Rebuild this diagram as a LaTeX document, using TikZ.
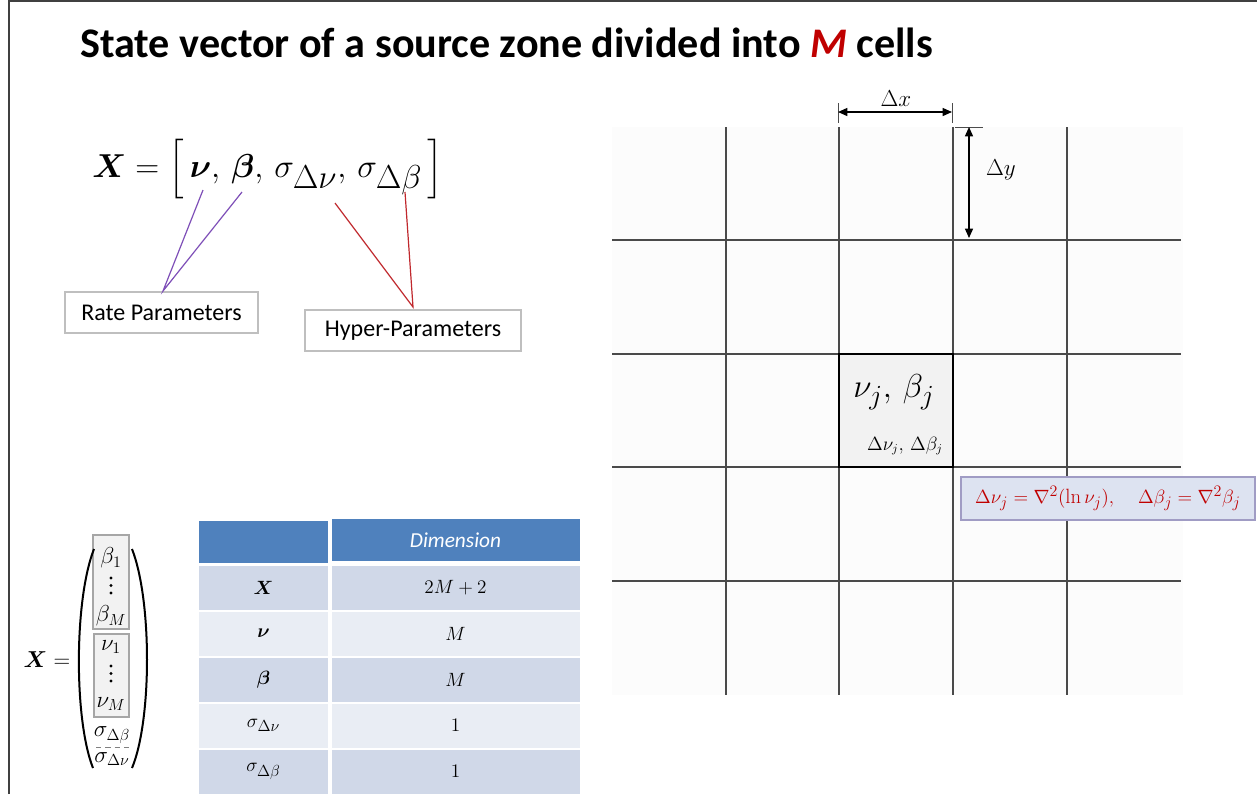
\documentclass[tikz,border=0pt]{standalone}
\usepackage{amsmath,bm}
\usepackage{fontspec}
\newfontfamily\carlito{Carlito}
\usetikzlibrary{arrows.meta}
\DeclareMathSizes{33}{33}{26}{20}
\DeclareMathSizes{28}{28}{21}{16}
\DeclareMathSizes{15.5}{15.5}{11.5}{9}
\definecolor{gridc}{HTML}{4A4A4A}
\definecolor{gridbg}{HTML}{FCFCFC}
\definecolor{cellgray}{HTML}{F2F2F2}
\definecolor{darkred}{HTML}{C00000}
\definecolor{rateline}{HTML}{7E4FB8}
\definecolor{hyperline}{HTML}{C0282D}
\definecolor{fbox}{HTML}{DDE3F1}
\definecolor{fboxline}{HTML}{A09CC4}
\definecolor{thead}{HTML}{4F81BD}
\definecolor{trowa}{HTML}{D0D8E8}
\definecolor{trowb}{HTML}{E9EDF4}
\definecolor{labbox}{HTML}{BFBFBF}
\definecolor{vecbox}{HTML}{A6A6A6}
\tikzset{
  gridline/.style={draw=gridc, line width=1.1pt},
  labelbox/.style={draw=labbox, line width=0.8pt, fill=white, inner sep=0pt,
     font=\carlito\fontsize{18}{21}\selectfont},
  thcell/.style={fill=thead, inner sep=0pt, minimum height=31.5pt},
  tcell/.style={inner sep=0pt, minimum height=33pt, font=\fontsize{15.5}{18}\selectfont},
  vecent/.style={font=\fontsize{18}{21}\selectfont, inner sep=0pt},
  dimarrow/.style={{Triangle[length=7pt,width=6pt]}-{Triangle[length=7pt,width=6pt]}, line width=1pt},
  tick/.style={draw=black!70, line width=0.6pt},
}
\begin{document}
\begin{tikzpicture}[x=0.75pt,y=-0.75pt]
\useasboundingbox (0,0) rectangle (1257,794);
\fill[white] (0,0) rectangle (1257,794);
\draw[line width=1.2pt, black!75] (9,794) -- (9,1) -- (1257,1);

% title
\node[anchor=base west, inner sep=0pt, font=\carlito\bfseries\fontsize{31.6}{38}\selectfont] (title) at (80,57)
  {State vector of a source zone divided into \textcolor{darkred}{\itshape M} cells};

% main equation
\node[anchor=base west, inner sep=0pt, font=\fontsize{33}{38}\selectfont] (eq) at (92,177)
  {$\bm{X} = \Big[\,\bm{\nu},\, \bm{\beta},\, \sigma_{\Delta\nu},\, \sigma_{\Delta\beta}\,\Big]$};
\coordinate (nuend) at (203,190);
\coordinate (betaend) at (242,192);
\coordinate (snuend) at (335,203);
\coordinate (sbetaend) at (405,192);

\node[labelbox, minimum width=144.75pt, minimum height=30.75pt] (rate) at (161.5,312.5) {Rate Parameters};
\node[labelbox, minimum width=162pt, minimum height=30.75pt] (hyper) at (413,330.5) {Hyper-Parameters};
\coordinate (ratetop) at (163,291);
\coordinate (hypertop) at (413,307);
\draw[rateline, line width=0.9pt] (nuend) -- (ratetop) -- (betaend);
\draw[hyperline, line width=0.9pt] (snuend) -- (hypertop) -- (sbetaend);

% grid
\fill[gridbg] (612,127) rectangle (1183,695);
\foreach \gx in {726,839,953,1067} \draw[gridline] (\gx,127) -- (\gx,695);
\foreach \gy in {240,354,467,581} \draw[gridline] (612,\gy) -- (1181,\gy);

\node[draw=black, line width=1.4pt, fill=cellgray, minimum width=85.5pt, minimum height=84.75pt, inner sep=0pt] (cell) at (896,410.5) {};
\node[font=\fontsize{28}{32}\selectfont, inner sep=0pt] (cellmain) at (894,392) {$\nu_j,\, \beta_j$};
\node[font=\fontsize{13.5}{16}\selectfont, inner sep=0pt] (cellsub) at (905,446) {$\Delta\nu_j,\, \Delta\beta_j$};

% dimension arrows
\coordinate (dxl) at (838,112);
\coordinate (dxr) at (952,112);
\draw[tick] (838,103) -- (838,123);
\draw[tick] (952,103) -- (952,123);
\draw[dimarrow] (dxl) -- (dxr);
\node[font=\fontsize{17}{20}\selectfont, inner sep=0pt] (dxlab) at (896,99) {$\Delta x$};
\coordinate (dyt) at (969,127);
\coordinate (dyb) at (969,238);
\draw[tick] (955,127) -- (983,127);
\draw[dimarrow] (dyt) -- (dyb);
\node[font=\fontsize{17}{20}\selectfont, inner sep=0pt] (dylab) at (1001,170) {$\Delta y$};

% formula box
\node[draw=fboxline, line width=1pt, fill=fbox, minimum width=220.5pt, minimum height=32.25pt, inner sep=0pt,
      text=darkred, font=\fontsize{15.5}{18}\selectfont] (formula) at (1108,498.5)
  {$\Delta\nu_j = \nabla^2(\ln\nu_j),\quad \Delta\beta_j = \nabla^2\beta_j$};

% state vector column
\node[font=\fontsize{16.5}{20}\selectfont, inner sep=0pt] (xeq) at (47,660) {$\bm{X} =$};
\node[draw=vecbox, line width=0.8pt, fill=cellgray, minimum width=27pt, minimum height=70.5pt, inner sep=0pt] (bbox) at (111,582) {};
\node[draw=vecbox, line width=0.8pt, fill=cellgray, minimum width=26.25pt, minimum height=62.25pt, inner sep=0pt] (nbox) at (111.5,675.5) {};
\node[vecent] (b1) at (111,558) {$\beta_1$};
\node[vecent] (bM) at (111,616) {$\beta_M$};
\node[vecent] (n1) at (111,647) {$\nu_1$};
\node[vecent] (nM) at (111,704) {$\nu_M$};
\foreach \dy in {578,585.5,593} \fill (111,\dy) circle (1.6);
\foreach \dy in {666,673.5,681} \fill (111,\dy) circle (1.6);
\node[font=\fontsize{17}{20}\selectfont, inner sep=0pt] (sb) at (112,735) {$\sigma_{\Delta\beta}$};
\node[font=\fontsize{17}{20}\selectfont, inner sep=0pt] (sn) at (112,759) {$\sigma_{\Delta\nu}$};
\draw[gray, line width=0.6pt, dash pattern=on 4pt off 3pt] (96,747) -- (133,747);
\draw[line width=1.5pt] (94,549) .. controls (74,600) and (74,720) .. (93,768);
\draw[line width=1.5pt] (132,549) .. controls (152,600) and (152,720) .. (132,768);

% table
\node[thcell, minimum width=96.75pt] (h1) at (263.5,542) {};
\node[thcell, minimum width=186pt, text=white, font=\carlito\itshape\fontsize{16}{19}\selectfont] (h2) at (455.5,540) {Dimension};
\node[tcell, fill=trowa, minimum width=96.75pt] (r1a) at (263.5,587.5) {$\bm{X}$};
\node[tcell, fill=trowa, minimum width=186pt] (r1b) at (455.5,587.5) {$2M+2$};
\node[tcell, fill=trowb, minimum width=96.75pt] (r2a) at (263.5,633.5) {$\bm{\nu}$};
\node[tcell, fill=trowb, minimum width=186pt] (r2b) at (455.5,633.5) {$M$};
\node[tcell, fill=trowa, minimum width=96.75pt] (r3a) at (263.5,679.5) {$\bm{\beta}$};
\node[tcell, fill=trowa, minimum width=186pt] (r3b) at (455.5,679.5) {$M$};
\node[tcell, fill=trowb, minimum width=96.75pt] (r4a) at (263.5,725.5) {$\sigma_{\Delta\nu}$};
\node[tcell, fill=trowb, minimum width=186pt] (r4b) at (455.5,725.5) {$1$};
\node[tcell, fill=trowa, minimum width=96.75pt] (r5a) at (263.5,771.5) {$\sigma_{\Delta\beta}$};
\node[tcell, fill=trowa, minimum width=186pt] (r5b) at (455.5,771.5) {$1$};
\end{tikzpicture}
\end{document}
